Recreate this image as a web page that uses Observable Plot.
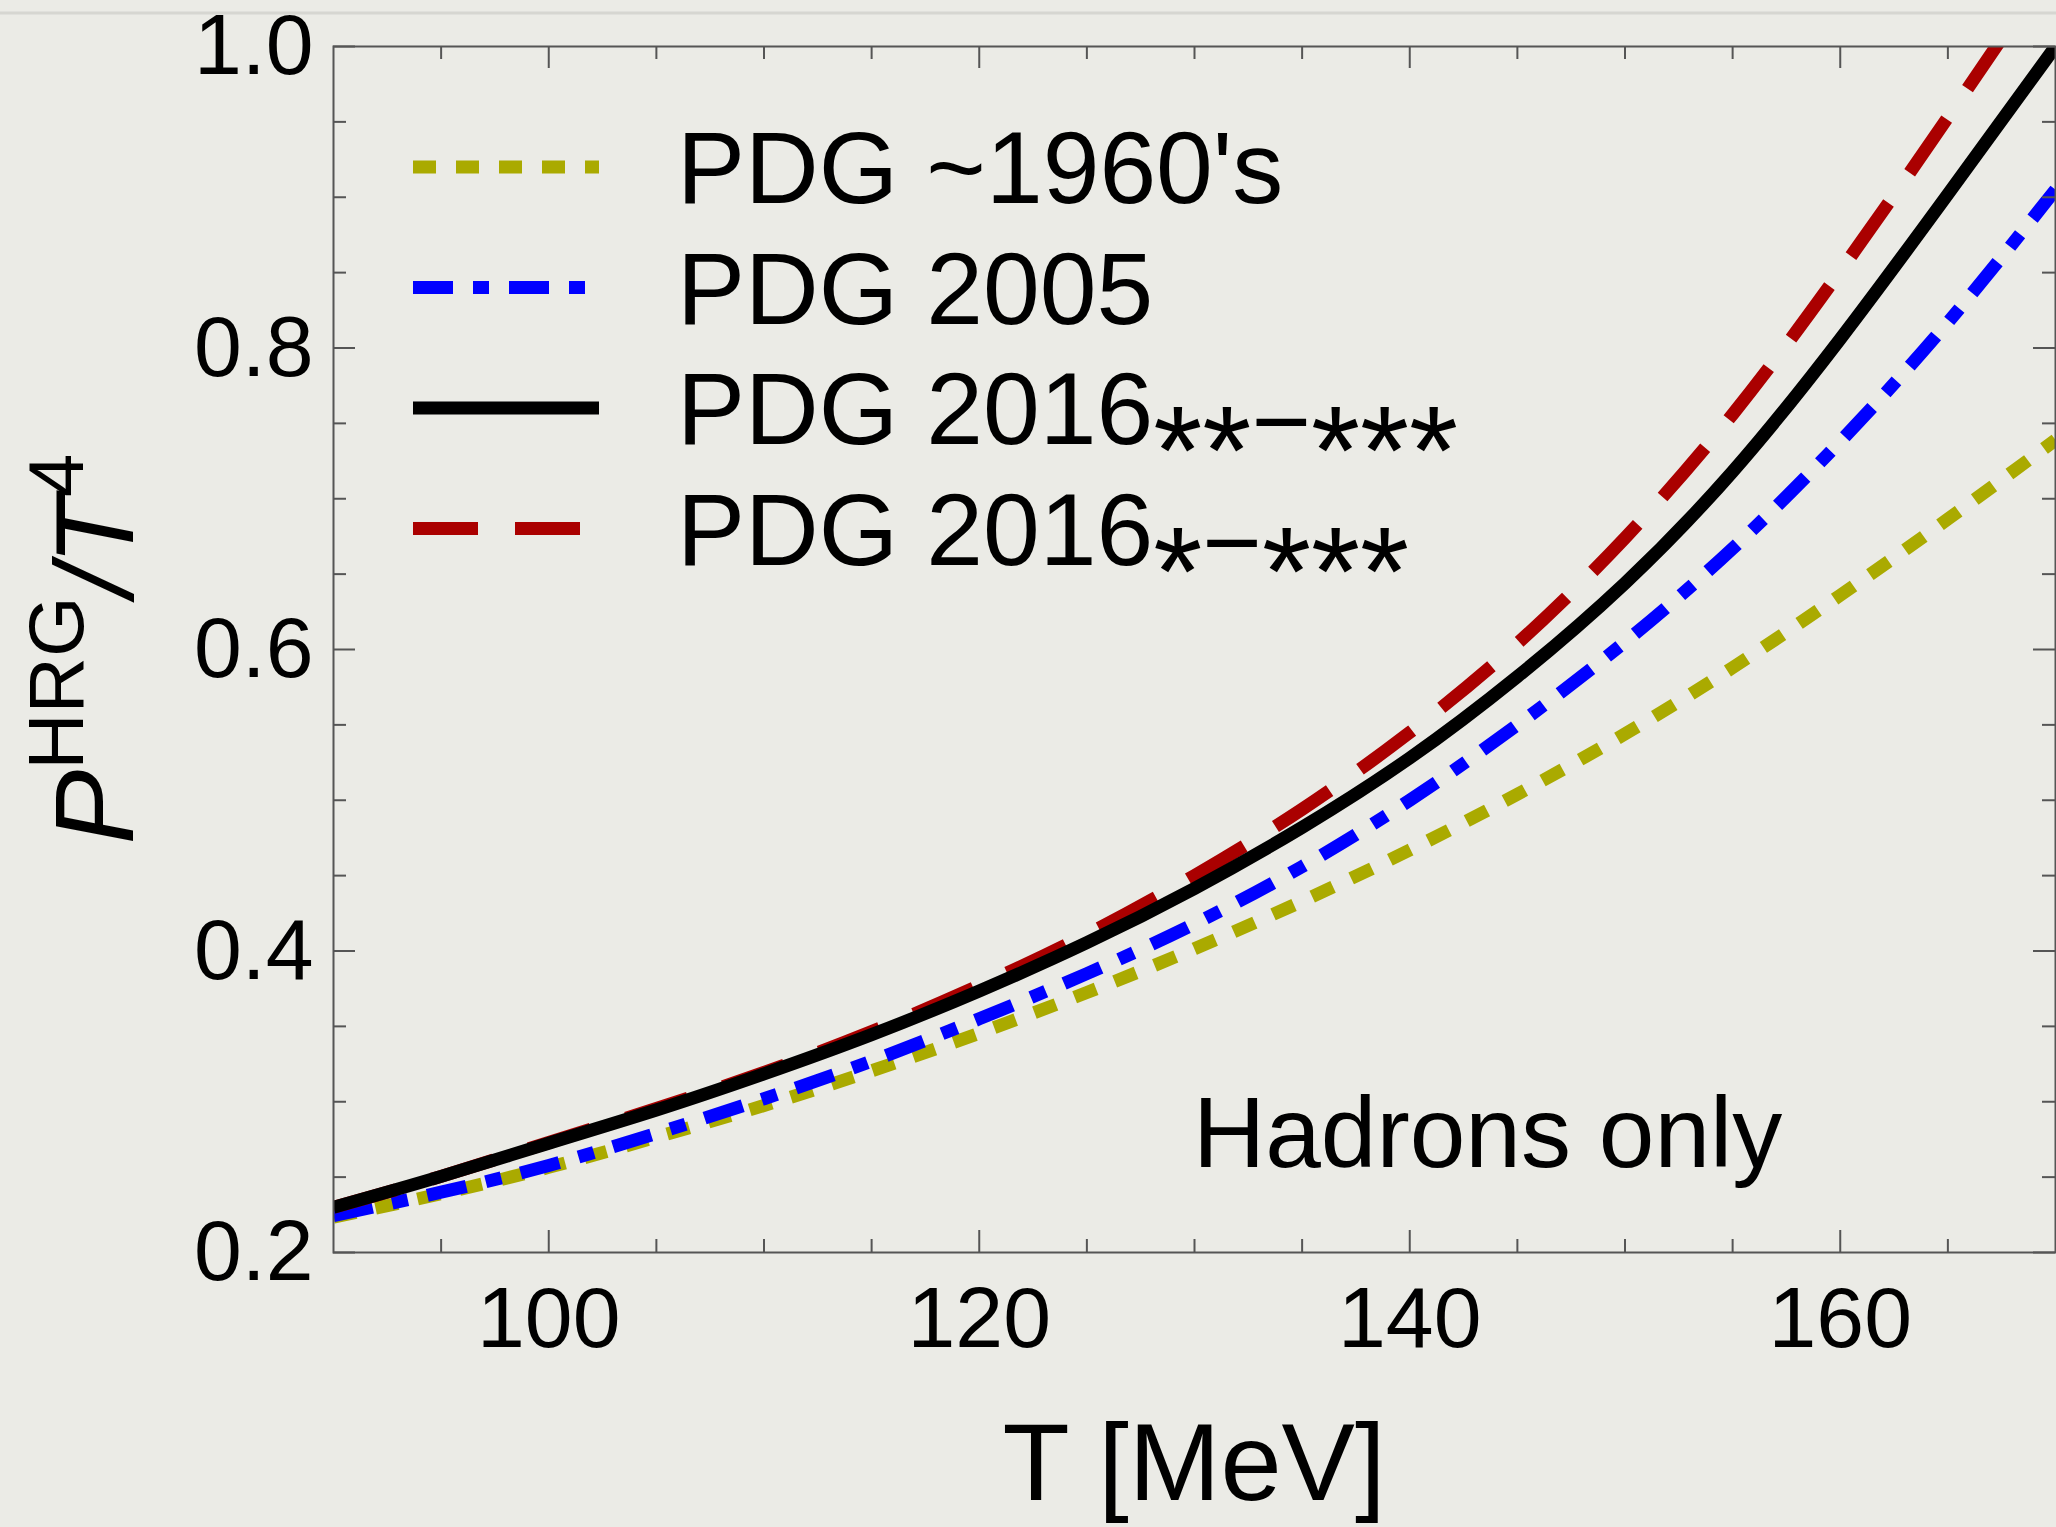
<!DOCTYPE html>
<html><head><meta charset="utf-8">
<script src="https://cdn.jsdelivr.net/npm/d3@7"></script>
<script src="https://cdn.jsdelivr.net/npm/@observablehq/plot@0.6"></script>
<style>
html,body{margin:0;padding:0;background:#ebebe6;overflow:hidden;}
#chart svg{display:block;}
</style></head><body><div id="chart"></div>
<script>
// ---- data ----
const temps   = [90, 95, 100, 105, 110, 115, 120, 125, 130, 135, 140, 145, 150, 155, 160, 165, 170];
const pdg1960 = [0.2235, 0.239, 0.2565, 0.2765, 0.2975, 0.3205, 0.3455, 0.3725, 0.4015, 0.433, 0.467, 0.504, 0.544, 0.588, 0.636, 0.6865, 0.739];
const pdg2005 = [0.2245, 0.240, 0.2577, 0.279, 0.302, 0.327, 0.355, 0.385, 0.418, 0.456, 0.500, 0.550, 0.605, 0.667, 0.738, 0.817, 0.905];
const pdg2016ss = [0.230, 0.2505, 0.2725, 0.2945, 0.3185, 0.3445, 0.3735, 0.4055, 0.4415, 0.482, 0.528, 0.582, 0.644, 0.718, 0.806, 0.902, 1.0];
const pdg2016s  = [0.230, 0.2505, 0.273, 0.2955, 0.3195, 0.3465, 0.377, 0.411, 0.450, 0.494, 0.545, 0.604, 0.674, 0.756, 0.851, 0.953, 1.058];

const seriesNames  = ["PDG ~1960's", "PDG 2005", "PDG 2016**−***", "PDG 2016*−***"];
const seriesColors = ["#aaaa00", "#0000ff", "#000000", "#aa0000"];
const seriesDash   = ["23,20", "40,20,16,20", null, "65,37"];
const xMajor = [100, 120, 140, 160];
const xMinor = [95, 105, 110, 115, 125, 130, 135, 145, 150, 155, 165];
const yMajor = [0.2, 0.4, 0.6, 0.8, 1.0];
const yMinor = [0.25, 0.3, 0.35, 0.45, 0.5, 0.55, 0.65, 0.7, 0.75, 0.85, 0.9, 0.95];
const xTitle = "T [MeV]";
const annotation = "Hadrons only";

// ---- layout ----
const W = 2056, H = 1527, mL = 333, mR = 1, mT = 46, mB = 275;
const pw = W - mL - mR, ph = H - mT - mB;
const FONT = "'Liberation Sans', Arial, Helvetica, sans-serif";
const seriesVals = [pdg1960, pdg2005, pdg2016ss, pdg2016s];
const rows = vals => temps.map((t, i) => ({T: t, v: vals[i]}));
const drawOrder = [0, 1, 3, 2];

const lineMarks = drawOrder.map(i => {
  const o = {x: "T", y: "v", stroke: seriesColors[i], strokeWidth: 13, strokeLinecap: "butt",
             strokeLinejoin: "round", curve: "natural", clip: true};
  if (seriesDash[i]) o.strokeDasharray = seriesDash[i];
  return Plot.line(rows(seriesVals[i]), o);
});

const tk = {stroke: "#555", strokeWidth: 2};
const MAJ = 22, MIN = 13;
const plot = Plot.plot({
  width: W, height: H,
  marginLeft: mL, marginRight: mR, marginTop: mT, marginBottom: mB,
  style: {fontFamily: FONT, background: "transparent", color: "#000"},
  x: {domain: [90, 170]},
  y: {domain: [0.2, 1.0]},
  marks: [
    ...lineMarks,
    Plot.tickX(xMajor, {x: d => d, insetTop: ph - MAJ, ...tk}),
    Plot.tickX(xMajor, {x: d => d, insetBottom: ph - MAJ, ...tk}),
    Plot.tickX(xMinor, {x: d => d, insetTop: ph - MIN, ...tk}),
    Plot.tickX(xMinor, {x: d => d, insetBottom: ph - MIN, ...tk}),
    Plot.tickY(yMajor, {y: d => d, insetRight: pw - MAJ, ...tk}),
    Plot.tickY(yMajor, {y: d => d, insetLeft: pw - MAJ, ...tk}),
    Plot.tickY(yMinor, {y: d => d, insetRight: pw - MIN, ...tk}),
    Plot.tickY(yMinor, {y: d => d, insetLeft: pw - MIN, ...tk}),
    Plot.frame({stroke: "#555", strokeWidth: 2}),
    Plot.axisX(xMajor, {tickSize: 0, tickPadding: 33, fontSize: 86, label: null}),
    Plot.axisY(yMajor, {tickSize: 0, tickPadding: 20, fontSize: 86, label: null, tickFormat: d => d.toFixed(1)})
  ]
});
document.getElementById("chart").appendChild(plot);

const svg = d3.select(plot);
// faint slide strip at the top
svg.insert("line", ":first-child").attr("x1", 0).attr("x2", W).attr("y1", 13).attr("y2", 13)
  .attr("stroke", "#d6d6d1").attr("stroke-width", 3);

// y title
const yt = svg.append("text")
  .attr("transform", `translate(133,${mT + ph / 2}) rotate(-90)`)
  .attr("text-anchor", "middle").attr("fill", "#000")
  .style("font-family", FONT).style("font-size", "112px");
yt.append("tspan").attr("font-style", "italic").text("P");
yt.append("tspan").attr("dy", -50).style("font-size", "78px").text("HRG");
yt.append("tspan").attr("dy", 50).attr("font-style", "italic").text("/T");
yt.append("tspan").attr("dy", -50).style("font-size", "78px").text("4");

// x title
svg.append("text").attr("x", mL + pw / 2).attr("y", 1500).attr("text-anchor", "middle")
  .attr("fill", "#000").style("font-family", FONT).style("font-size", "110px").text(xTitle);

// annotation
svg.append("text").attr("x", 1193).attr("y", 1167).attr("text-anchor", "start").attr("fill", "#000")
  .style("font-family", FONT).style("font-size", "100px").text(annotation);

// legend
seriesNames.forEach((name, i) => {
  const cy = 167 + i * 120.5;
  const ln = svg.append("line").attr("x1", 413).attr("x2", 599).attr("y1", cy).attr("y2", cy)
    .attr("stroke", seriesColors[i]).attr("stroke-width", 13).attr("stroke-linecap", "butt");
  if (seriesDash[i]) ln.attr("stroke-dasharray", seriesDash[i]);
  const t = svg.append("text").attr("x", 677).attr("y", cy + 36).attr("text-anchor", "start")
    .attr("fill", "#000").style("font-family", FONT).style("font-size", "102px");
  const m = name.match(/^(.*?\d)([*−]+)$/);
  if (!m) { t.text(name); return; }
  t.append("tspan").text(m[1]);
  let shift = 0;
  const chunks = m[2].match(/\*+|−+/g);
  chunks.forEach(c => {
    const isStar = c[0] === "*";
    const target = isStar ? 50 : 12;
    const sp = t.append("tspan").attr("dy", target - shift).text(c);
    if (isStar) sp.style("font-size", "126px");
    shift = target;
  });
});
</script>
</body></html>
